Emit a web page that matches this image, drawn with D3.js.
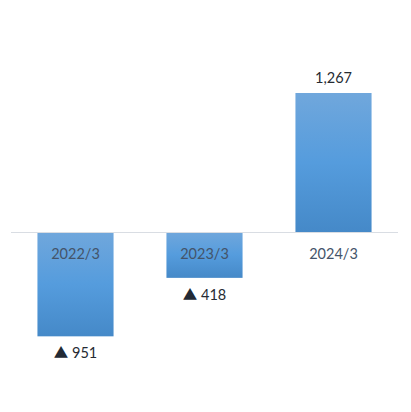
<!DOCTYPE html>
<html><head><meta charset="utf-8">
<script src="https://cdn.jsdelivr.net/npm/d3@7"></script>
<style>body{margin:0;background:#fff;}svg{display:block;font-family:Lato,"Open Sans",sans-serif;}</style>
</head><body><div id="chart"></div>
<script>
const categories = ["2022/3", "2023/3", "2024/3"];
const values = [-951, -418, 1267];
const valueLabels = ["951", "418", "1,267"];

const W = 411, H = 412;
const svg = d3.select("#chart").append("svg").attr("width", W).attr("height", H);
const defs = svg.append("defs");
const grad = defs.append("linearGradient").attr("id", "g").attr("x1", 0).attr("y1", 0).attr("x2", 0).attr("y2", 1);
grad.append("stop").attr("offset", "0%").attr("stop-color", "#70a7dc");
grad.append("stop").attr("offset", "50%").attr("stop-color", "#559cdd");
grad.append("stop").attr("offset", "100%").attr("stop-color", "#4589c8");

const x = d3.scaleBand().domain(categories).range([11, 398]).paddingInner(0.41).paddingOuter(0.205);
const y = d3.scaleLinear().domain([0, 1267]).range([232, 93]);

svg.selectAll("rect.bar").data(values).join("rect").attr("class", "bar")
  .attr("x", (d, i) => x(categories[i]))
  .attr("width", x.bandwidth())
  .attr("y", d => Math.min(y(d), y(0)))
  .attr("height", d => Math.abs(y(d) - y(0)))
  .attr("fill", "url(#g)");

svg.append("line").attr("x1", 11).attr("x2", 398).attr("y1", y(0) + 0.5).attr("y2", y(0) + 0.5)
  .attr("stroke", "#d9dde3").attr("stroke-width", 1);

svg.selectAll("text.cat").data(categories).join("text").attr("class", "cat")
  .attr("x", d => x(d) + x.bandwidth() / 2).attr("y", y(0) + 27)
  .attr("text-anchor", "middle").attr("font-size", 14.5).attr("fill", "#44546a").text(d => d);

const vt = svg.selectAll("text.val").data(values).join("text").attr("class", "val")
  .attr("x", (d, i) => x(categories[i]) + x.bandwidth() / 2)
  .attr("y", d => d >= 0 ? y(d) - 10 : y(d) + 22)
  .attr("text-anchor", "middle").attr("font-size", 14.5).attr("fill", "#262b33");
vt.each(function(d, i) {
  const t = d3.select(this);
  if (d < 0) t.append("tspan").attr("font-family", "'Noto Sans CJK JP'").attr("fill", "#222a35").text("▲");
  t.append("tspan").text((d < 0 ? " " : "") + valueLabels[i]);
});
</script></body></html>
